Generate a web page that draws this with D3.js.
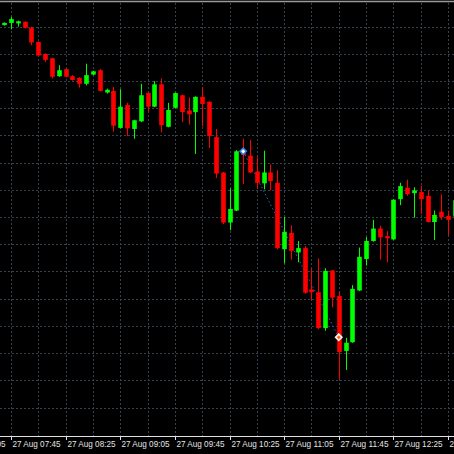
<!DOCTYPE html>
<html>
<head>
<meta charset="utf-8">
<script src="https://cdn.jsdelivr.net/npm/d3@7"></script>
<style>
  html, body { margin: 0; padding: 0; background: #000; }
  svg { display: block; }
</style>
</head>
<body>
<svg id="chart" width="454" height="454"></svg>
<script>
// 5 minute bars, 27 Aug
var times = ["07:40","07:45","07:50","07:55","08:00","08:05","08:10","08:15","08:20","08:25",
  "08:30","08:35","08:40","08:45","08:50","08:55","09:00","09:05","09:10","09:15",
  "09:20","09:25","09:30","09:35","09:40","09:45","09:50","09:55","10:00","10:05",
  "10:10","10:15","10:20","10:25","10:30","10:35","10:40","10:45","10:50","10:55",
  "11:00","11:05","11:10","11:15","11:20","11:25","11:30","11:35","11:40","11:45",
  "11:50","11:55","12:00","12:05","12:10","12:15","12:20","12:25","12:30","12:35",
  "12:40","12:45","12:50","12:55","13:00","13:05","13:10"];

var opens = [1.32453,1.32457,1.32456,1.32459,1.32448,1.32422,1.32400,1.32392,1.32359,1.32372,
  1.32359,1.32356,1.32345,1.32362,1.32370,1.32329,1.32332,1.32264,1.32306,1.32262,
  1.32276,1.32328,1.32303,1.32344,1.32266,1.32301,1.32324,1.32296,1.32293,1.32321,
  1.32312,1.32247,1.32182,1.32090,1.32112,1.32221,1.32213,1.32184,1.32162,1.32182,
  1.32163,1.32041,1.32071,1.32035,1.32043,1.31967,1.31962,1.31896,1.32002,1.31955,
  1.31854,1.31870,1.31965,1.32023,1.32056,1.32079,1.32065,1.32059,1.32133,1.32154,
  1.32144,1.32146,1.32139,1.32091,1.32110,1.32102,1.32101];

var highs = [1.32458,1.32468,1.32461,1.32460,1.32450,1.32423,1.32401,1.32393,1.32379,1.32373,
  1.32361,1.32357,1.32382,1.32369,1.32372,1.32336,1.32339,1.32335,1.32310,1.32279,
  1.32345,1.32329,1.32350,1.32355,1.32310,1.32329,1.32325,1.32320,1.32322,1.32339,
  1.32313,1.32262,1.32183,1.32153,1.32223,1.32244,1.32242,1.32210,1.32222,1.32197,
  1.32186,1.32100,1.32085,1.32056,1.32047,1.32005,1.32024,1.32006,1.32003,1.31962,
  1.31878,1.31975,1.32044,1.32063,1.32095,1.32084,1.32074,1.32133,1.32163,1.32169,
  1.32155,1.32158,1.32148,1.32112,1.32142,1.32112,1.32132];

var lows = [1.32452,1.32445,1.32450,1.32447,1.32416,1.32396,1.32385,1.32355,1.32358,1.32357,
  1.32351,1.32338,1.32342,1.32361,1.32331,1.32327,1.32257,1.32263,1.32249,1.32244,
  1.32275,1.32295,1.32302,1.32256,1.32265,1.32300,1.32275,1.32270,1.32216,1.32267,
  1.32227,1.32172,1.32087,1.32076,1.32111,1.32161,1.32181,1.32152,1.32151,1.32149,
  1.32041,1.32015,1.32022,1.32017,1.31959,1.31948,1.31894,1.31891,1.31934,1.31802,
  1.31819,1.31869,1.31964,1.32011,1.32055,1.32022,1.32017,1.32058,1.32122,1.32139,
  1.32099,1.32106,1.32090,1.32058,1.32095,1.32067,1.32100];

var closes = [1.32457,1.32464,1.32460,1.32448,1.32421,1.32397,1.32389,1.32358,1.32370,1.32358,
  1.32352,1.32345,1.32361,1.32368,1.32332,1.32334,1.32268,1.32303,1.32263,1.32278,
  1.32324,1.32303,1.32344,1.32269,1.32297,1.32328,1.32293,1.32289,1.32321,1.32308,
  1.32249,1.32180,1.32090,1.32115,1.32221,1.32214,1.32182,1.32163,1.32182,1.32166,
  1.32043,1.32073,1.32038,1.32043,1.31961,1.31962,1.31896,1.32001,1.31952,1.31852,
  1.31869,1.31968,1.32027,1.32056,1.32079,1.32063,1.32061,1.32132,1.32157,1.32142,
  1.32149,1.32133,1.32091,1.32104,1.32100,1.32095,1.32131];

// trade open / close arrows
var tradeTimes = ["10:35", "11:45"];
var tradePrices = [1.32221, 1.31879];

var day = "2019-08-27 ";
var parseT = d3.utcParse("%Y-%m-%d %H:%M");
var fmt = d3.utcFormat("%d %b %H:%M");

var W = 454, H = 454, axisY = 436;

var svg = d3.select("#chart");
svg.append("rect").attr("width", W).attr("height", H).attr("fill", "#000");

var x = d3.scaleUtc()
  .domain([parseT(day + "07:45"), parseT(day + "13:05")])
  .range([11, 448]);

var y = d3.scaleLinear()
  .domain([1.3245, 1.3175])
  .range([26.7, 407.5]);

var bars = times.map(function(t, i) {
  return { t: parseT(day + t), o: opens[i], h: highs[i], l: lows[i], c: closes[i] };
});

// grid
var grid = svg.append("g").attr("class", "grid")
  .attr("stroke", "#36424e").attr("stroke-width", 1).attr("stroke-dasharray", "2,2");

grid.selectAll("line.h")
  .data(y.ticks(14))
  .enter().append("line")
  .attr("class", "h")
  .attr("x1", 0).attr("x2", W)
  .attr("y1", function(d) { return Math.round(y(d)) + 0.5; })
  .attr("y2", function(d) { return Math.round(y(d)) + 0.5; });

var gridTimes = d3.utcMinute.range(parseT(day + "07:25"), parseT(day + "13:30"), 20);
grid.selectAll("line.v")
  .data(gridTimes)
  .enter().append("line")
  .attr("class", "v")
  .attr("y1", 3).attr("y2", axisY)
  .attr("x1", function(d) { return Math.round(x(d)) + 0.5; })
  .attr("x2", function(d) { return Math.round(x(d)) + 0.5; });

// top border
svg.append("line").attr("x1", 0).attr("x2", W).attr("y1", 1.5).attr("y2", 1.5)
  .attr("stroke", "#9a9a9a").attr("stroke-width", 1.5);

// trade line
svg.append("line")
  .attr("x1", x(parseT(day + tradeTimes[0]))).attr("y1", y(tradePrices[0]))
  .attr("x2", x(parseT(day + tradeTimes[1]))).attr("y2", y(tradePrices[1]))
  .attr("stroke", "#2266cc").attr("stroke-width", 1).attr("stroke-dasharray", "1.5,2.5");

// candles
var bodyW = 4.6;
var candles = svg.append("g").attr("class", "candles");

candles.selectAll("line.wick")
  .data(bars)
  .enter().append("line")
  .attr("class", "wick")
  .attr("x1", function(d) { return Math.round(x(d.t)) + 0.5; })
  .attr("x2", function(d) { return Math.round(x(d.t)) + 0.5; })
  .attr("y1", function(d) { return y(d.h); })
  .attr("y2", function(d) { return y(d.l); })
  .attr("stroke", function(d) { return d.c >= d.o ? "#00ff00" : "#ff0000"; })
  .attr("stroke-width", 1);

candles.selectAll("rect.body")
  .data(bars)
  .enter().append("rect")
  .attr("class", "body")
  .attr("x", function(d) { return Math.round(x(d.t)) + 0.5 - bodyW / 2; })
  .attr("width", bodyW)
  .attr("y", function(d) { return Math.min(y(d.o), y(d.c)); })
  .attr("height", function(d) { return Math.max(1.5, Math.abs(y(d.o) - y(d.c))); })
  .attr("fill", function(d) { return d.c >= d.o ? "#00ff00" : "#ff0000"; });

// trade markers
var marks = svg.append("g").attr("class", "marks");
var markColors = [["#2f80e8", "#ffffff"], ["#ffffff", "#ff6a20"]];
tradeTimes.forEach(function(t, i) {
  var g = marks.append("g")
    .attr("transform", "translate(" + x(parseT(day + t)) + "," + y(tradePrices[i]) + ") rotate(45)");
  g.append("rect").attr("x", -3).attr("y", -3).attr("width", 6).attr("height", 6)
    .attr("fill", markColors[i][0]);
  g.append("rect").attr("x", -1.5).attr("y", -1.5).attr("width", 3).attr("height", 3)
    .attr("fill", markColors[i][1]);
});

// time axis
svg.append("rect").attr("x", 0).attr("y", axisY).attr("width", W).attr("height", H - axisY)
  .attr("fill", "#000");
svg.append("line").attr("x1", 0).attr("x2", W).attr("y1", axisY + 0.5).attr("y2", axisY + 0.5)
  .attr("stroke", "#e0e0e0").attr("stroke-width", 1);

var labelTimes = d3.utcMinute.range(parseT(day + "07:05"), parseT(day + "13:30"), 40);
var ax = svg.append("g").attr("class", "x-axis");
ax.selectAll("line")
  .data(labelTimes)
  .enter().append("line")
  .attr("x1", function(d) { return Math.round(x(d)) + 0.5; })
  .attr("x2", function(d) { return Math.round(x(d)) + 0.5; })
  .attr("y1", axisY).attr("y2", axisY + 4)
  .attr("stroke", "#e0e0e0");

ax.selectAll("text")
  .data(labelTimes)
  .enter().append("text")
  .attr("x", function(d) { return Math.round(x(d)) + 1.5; })
  .attr("y", axisY + 10.5)
  .attr("fill", "#e4e4e4")
  .attr("font-family", "'Liberation Sans', Arial, sans-serif")
  .attr("font-size", 9)
  .attr("textLength", 48)
  .attr("lengthAdjust", "spacingAndGlyphs")
  .text(function(d) { return fmt(d); });
</script>
</body>
</html>
